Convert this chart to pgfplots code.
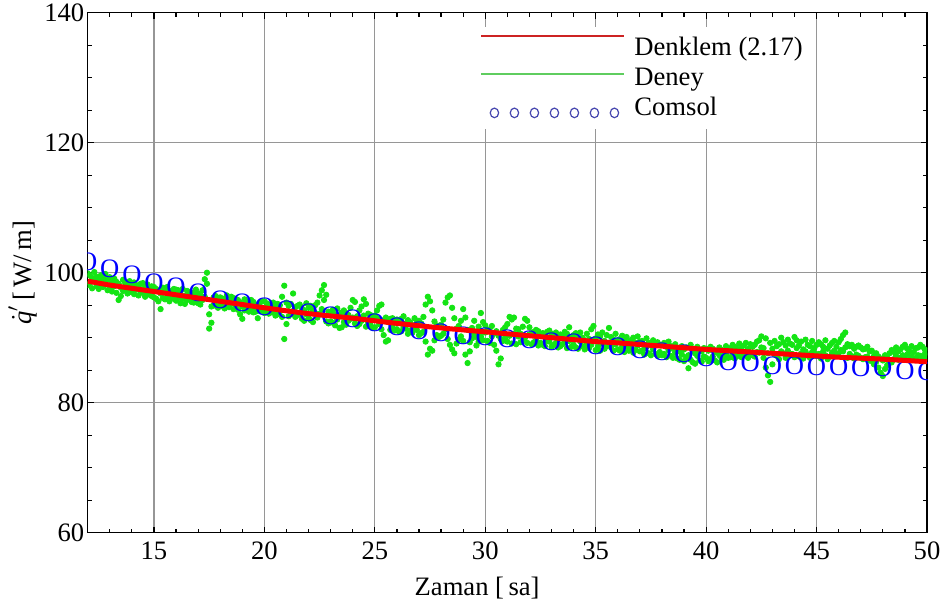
\documentclass[border=0pt]{standalone}
\usepackage{pgfplots}
\usepackage{pgfplotstable}
\pgfplotsset{compat=1.18}
\usepackage{fontspec}
\setmainfont{Liberation Serif}
\definecolor{dgreen}{RGB}{20,228,20}
\definecolor{gridgray}{RGB}{150,150,150}
\definecolor{legred}{RGB}{205,35,35}
\definecolor{leggreen}{RGB}{95,205,95}
\definecolor{legblue}{RGB}{70,70,175}
\pgfplotstableread{
x a b
12.0 99.9 98.1
12.1 98.4 99.6
12.2 99.2 97.6
12.3 100.1 98.7
12.4 97.9 99.4
12.5 98.9 97.5
12.6 99.6 98.2
12.7 97.8 99.1
12.8 98.6 99.8
12.9 97.3 98.9
13.0 99.3 97.6
13.1 98.5 97.1
13.2 99.1 97.9
13.3 96.9 98.6
13.4 95.8 98.3
13.5 96.4 97.7
13.6 98.9 97.2
13.7 97.5 98.4
13.8 96.8 98.0
13.9 98.7 97.1
14.0 97.0 98.3
14.1 98.5 96.7
14.2 97.4 98.1
14.3 96.5 97.9
14.4 98.3 97.0
14.5 96.9 98.4
14.6 97.8 96.3
14.7 98.2 97.1
14.8 96.6 97.6
14.9 97.9 96.4
15.0 96.2 97.8
15.1 97.5 96.0
15.2 95.6 97.2
15.3 94.4 96.8
15.4 96.1 97.7
15.5 97.4 95.9
15.6 96.3 97.8
15.7 95.6 97.0
15.8 97.2 96.2
15.9 96.0 97.5
16.0 97.4 95.7
16.1 96.1 97.3
16.2 95.3 96.8
16.3 97.5 96.0
16.4 96.4 95.2
16.5 95.8 97.2
16.6 97.0 96.0
16.7 95.5 96.7
16.8 96.9 95.4
16.9 96.2 97.4
17.0 95.3 96.8
17.1 96.6 95.1
17.2 97.3 95.8
17.3 99.0 96.3
17.4 100.0 98.3
17.5 93.6 91.4
17.6 92.3 94.8
17.7 96.2 95.0
17.8 94.9 96.4
17.9 95.7 94.6
18.0 96.2 94.9
18.1 94.8 96.0
18.2 95.9 94.5
18.3 96.5 95.2
18.4 94.7 95.6
18.5 95.3 96.3
18.6 96.1 94.4
18.7 94.9 95.7
18.8 95.8 94.3
18.9 93.6 95.4
19.0 92.9 94.8
19.1 95.9 94.2
19.2 94.6 95.6
19.3 95.2 94.0
19.4 94.3 95.8
19.5 95.5 93.9
19.6 94.0 95.1
19.7 93.0 94.7
19.8 95.4 94.1
19.9 94.5 95.6
20.0 95.6 93.8
20.1 94.0 95.3
20.2 95.1 93.7
20.3 93.9 94.9
20.4 95.4 94.2
20.5 94.6 93.4
20.6 93.6 95.2
20.7 95.0 94.0
20.8 96.3 93.2
20.9 98.0 89.8
21.0 92.1 95.4
21.1 94.9 93.3
21.2 93.6 95.2
21.3 96.8 94.1
21.4 93.2 94.7
21.5 94.9 93.5
21.6 93.8 95.1
21.7 94.5 92.9
21.8 92.6 94.2
21.9 95.3 93.6
22.0 93.0 94.6
22.1 94.9 92.7
22.2 92.4 94.1
22.3 93.8 95.0
22.4 95.4 93.1
22.5 96.5 93.7
22.6 97.3 94.4
22.7 98.1 95.8
22.8 96.6 92.5
22.9 94.0 92.2
23.0 93.9 92.5
23.1 92.3 94.3
23.2 93.6 91.9
23.3 94.5 92.8
23.4 91.5 93.3
23.5 93.9 91.6
23.6 92.4 94.2
23.7 93.8 92.0
23.8 92.6 93.5
23.9 94.6 92.9
24.0 95.8 93.1
24.1 95.5 92.2
24.2 93.3 91.8
24.3 92.1 94.2
24.4 94.8 92.6
24.5 95.9 93.4
24.6 95.2 91.7
24.7 93.7 92.3
24.8 92.0 93.5
24.9 93.1 91.5
25.0 91.6 93.4
25.1 93.0 94.2
25.2 94.9 92.1
25.3 95.1 91.3
25.4 90.4 92.7
25.5 89.4 93.1
25.6 89.6 92.4
25.7 92.9 91.2
25.8 91.6 93.0
25.9 92.7 91.1
26.0 91.3 92.8
26.1 92.5 90.9
26.2 91.0 92.9
26.3 93.3 91.6
26.4 91.4 92.2
26.5 90.6 92.7
26.6 92.4 91.1
26.7 90.8 91.9
26.8 93.0 91.4
26.9 91.2 92.3
27.0 92.6 90.4
27.1 90.7 92.2
27.2 93.2 90.9
27.3 95.1 89.4
27.4 96.3 87.4
27.5 95.6 88.3
27.6 94.2 88.0
27.7 92.5 89.6
27.8 90.4 91.9
27.9 91.7 90.1
28.0 90.3 92.0
28.1 92.8 90.6
28.2 95.4 91.3
28.3 96.2 89.8
28.4 96.5 88.9
28.5 94.6 88.2
28.6 93.0 87.6
28.7 91.4 89.1
28.8 89.7 91.8
28.9 92.6 90.2
29.0 94.4 89.5
29.1 93.1 87.4
29.2 91.2 86.1
29.3 89.3 87.9
29.4 91.5 89.9
29.5 92.6 90.6
29.6 90.1 88.8
29.7 91.7 89.4
29.8 93.8 90.2
29.9 92.4 89.6
30.0 90.8 91.9
30.1 89.5 91.3
30.2 91.1 89.2
30.3 90.2 91.8
30.4 88.9 90.7
30.5 88.0 91.0
30.6 85.9 90.3
30.7 86.8 89.8
30.8 91.2 89.5
30.9 90.0 91.6
31.0 92.1 89.4
31.1 93.2 90.3
31.2 92.8 89.1
31.3 93.1 90.6
31.4 91.4 89.0
31.5 90.2 91.3
31.6 89.3 90.6
31.7 91.7 89.6
31.8 92.9 90.0
31.9 92.6 89.2
32.0 90.5 91.6
32.1 89.0 90.7
32.2 90.9 89.3
32.3 89.6 91.2
32.4 91.0 88.8
32.5 89.2 90.4
32.6 90.7 88.9
32.7 88.7 90.1
32.8 90.9 89.5
32.9 89.4 91.1
33.0 90.6 88.6
33.1 88.9 90.3
33.2 90.8 89.2
33.3 89.7 88.5
33.4 88.7 90.5
33.5 90.2 89.0
33.6 89.3 90.9
33.7 90.6 88.4
33.8 91.6 89.5
33.9 88.6 90.1
34.0 90.4 88.9
34.1 88.5 90.7
34.2 89.9 88.3
34.3 90.8 89.4
34.4 88.7 90.0
34.5 89.6 88.2
34.6 90.6 89.0
34.7 88.4 89.8
34.8 91.3 88.9
34.9 91.8 89.6
35.0 89.9 88.1
35.1 88.6 90.5
35.2 90.2 88.0
35.3 89.1 90.8
35.4 88.3 89.5
35.5 90.4 88.7
35.6 91.5 89.2
35.7 88.5 90.1
35.8 89.7 88.0
35.9 90.6 89.0
36.0 88.2 89.6
36.1 89.8 88.0
36.2 88.6 90.3
36.3 89.5 87.8
36.4 90.1 88.7
36.5 88.0 89.3
36.6 89.6 88.4
36.7 87.7 90.0
36.8 89.2 88.1
36.9 90.2 88.8
37.0 87.9 89.4
37.1 89.5 88.0
37.2 88.3 87.4
37.3 89.9 88.6
37.4 87.6 89.2
37.5 88.8 87.3
37.6 89.6 88.2
37.7 87.5 88.9
37.8 89.3 87.2
37.9 87.8 88.9
38.0 88.9 87.3
38.1 87.5 89.2
38.2 88.6 87.0
38.3 89.4 88.1
38.4 87.2 88.7
38.5 88.3 86.9
38.6 89.0 87.7
38.7 86.8 88.4
38.8 87.9 86.6
38.9 88.7 87.4
39.0 86.4 88.2
39.1 88.5 87.0
39.2 87.3 85.3
39.3 88.9 86.6
39.4 86.2 88.1
39.5 87.6 86.0
39.6 88.6 87.2
39.7 86.5 88.0
39.8 87.9 86.3
39.9 88.4 87.1
40.0 86.9 88.3
40.1 88.0 86.4
40.2 86.7 88.6
40.3 88.3 87.1
40.4 86.5 87.8
40.5 87.7 86.2
40.6 88.5 87.3
40.7 86.8 88.1
40.8 87.9 86.6
40.9 88.7 87.4
41.0 86.9 88.2
41.1 88.4 87.0
41.2 87.3 88.9
41.3 88.6 86.8
41.4 87.5 88.3
41.5 89.1 87.2
41.6 87.0 88.5
41.7 88.8 87.6
41.8 87.4 89.2
41.9 88.3 86.9
42.0 89.0 87.5
42.1 87.3 88.6
42.2 88.9 87.1
42.3 87.8 89.4
42.4 89.6 87.7
42.5 90.2 88.5
42.6 88.4 86.9
42.7 89.9 85.4
42.8 87.6 84.2
42.9 89.2 83.2
43.0 88.3 85.9
43.1 89.5 87.4
43.2 87.2 88.7
43.3 89.0 86.7
43.4 90.0 87.9
43.5 87.6 89.3
43.6 88.8 86.9
43.7 89.7 88.0
43.8 87.3 89.1
43.9 88.9 87.5
44.0 90.1 87.0
44.1 88.4 89.6
44.2 87.1 88.8
44.3 89.4 87.6
44.4 88.2 86.8
44.5 89.7 87.9
44.6 87.4 88.9
44.7 88.7 86.9
44.8 89.5 87.8
44.9 87.6 88.4
45.0 88.9 87.2
45.1 87.5 89.3
45.2 89.0 86.8
45.3 87.9 88.6
45.4 89.6 87.3
45.5 88.3 86.7
45.6 87.1 88.8
45.7 89.2 87.7
45.8 88.0 89.5
45.9 87.4 88.6
46.0 89.3 87.6
46.1 88.1 89.8
46.2 90.4 87.9
46.3 90.8 88.5
46.4 89.0 86.9
46.5 87.5 88.7
46.6 88.9 87.1
46.7 86.8 88.3
46.8 88.6 87.4
46.9 87.2 88.8
47.0 88.5 86.9
47.1 86.7 88.2
47.2 88.3 87.0
47.3 87.1 88.6
47.4 86.5 87.9
47.5 88.0 86.4
47.6 87.2 85.9
47.7 86.3 87.6
47.8 85.4 87.1
47.9 84.6 86.8
48.0 84.1 86.5
48.1 85.2 87.3
48.2 86.9 85.8
48.3 87.6 86.4
48.4 86.2 88.1
48.5 87.8 86.7
48.6 88.5 87.2
48.7 86.6 87.9
48.8 88.2 86.9
48.9 87.3 88.6
49.0 88.9 86.8
49.1 87.4 88.3
49.2 86.6 87.9
49.3 88.7 87.1
49.4 87.8 86.7
49.5 86.9 88.4
49.6 88.5 87.3
49.7 87.2 88.9
49.8 88.6 86.8
49.9 87.5 88.2
50.0 88.0 87.0
}\deney
\begin{document}
\fontsize{13.3}{16}\selectfont
\begin{tikzpicture}
\begin{axis}[
  scale only axis,
  width=419.65pt, height=260pt,
  xmin=12, xmax=50, ymin=60, ymax=140,
  clip mode=individual,
  clip marker paths=true,
  xtick={15,20,...,50}, ytick={60,80,...,140},
  minor xtick={12,13,...,50}, minor ytick={60,65,...,140},
  tick align=inside,
  major tick length=3pt, minor tick length=2pt,
  every tick/.style={black, line width=0.6pt},
  grid=major,
  major grid style={color=gridgray, line width=0.6pt},
  axis line style={line width=0.8pt},
  /pgf/number format/assume math mode=true,
  ticklabel style={font=\fontsize{13.3}{16}\selectfont},
  yticklabel style={inner xsep=1.5pt},
  label style={font=\fontsize{13.3}{16}\selectfont},
  xlabel={Zaman [\,sa]},
  xlabel style={at={(axis description cs:0.464,-0.121)}, anchor=base},
  ylabel={$\dot{\hbox{\itshape q}}'$\,[\,W/\,m]},
  ylabel style={at={(axis description cs:-0.0776,0.5)}, anchor=center},
  legend style={at={(0.4603,0.9725)}, anchor=north west, draw=none, fill=white,
    inner sep=3pt, font=\fontsize{13.3}{16}\selectfont, column sep=2.5pt,
    nodes={inner sep=2pt, text height=9pt, text depth=2pt}},
  legend cell align=left,
]
\addlegendimage{legend image code/.code={\path (0pt,0pt) (71.5pt,0pt); \draw[legred, line width=1pt] (0pt,6.1pt) -- (71.5pt,6.1pt);}}
\addlegendentry{Denklem (2.17)}
\addlegendimage{legend image code/.code={\path (0pt,0pt) (71.5pt,0pt); \draw[leggreen, line width=1pt] (0pt,2.3pt) -- (71.5pt,2.3pt);}}
\addlegendentry{Deney}
\addlegendimage{legend image code/.code={\path (0pt,0pt) (71.5pt,0pt);
  \foreach \k in {0,...,6} {\draw[legblue, line width=0.6pt] (6.5pt+\k*10pt,-2.25pt) ellipse (2.1pt and 2.4pt);}}}
\addlegendentry{Comsol}

\addplot[only marks, mark=*, mark size=1.35pt, color=dgreen, forget plot] table[x=x, y=a] {\deney};
\addplot[only marks, mark=*, mark size=1.35pt, color=dgreen, forget plot] table[x=x, y=b] {\deney};

\addplot[only marks, mark=text, text mark={\color{blue}\fontsize{13.3}{14}\selectfont O}, color=blue, forget plot] coordinates {
(12,101.7) (13,100.6) (14,99.7) (15,98.5) (16,97.8) (17,96.9) (18,95.8) (19,95.4) (20,94.8)
(21,94.3) (22,93.8) (23,93.4) (24,92.9) (25,92.3) (26,91.7) (27,91.1) (28,90.8) (29,90.3)
(30,90.2) (31,89.8) (32,89.7) (33,89.4) (34,89.2) (35,88.8) (36,88.6) (37,88.2) (38,87.9)
(39,87.5) (40,86.9) (41,86.3) (42,86.1) (43,85.7) (44,85.7) (45,85.5) (46,85.5) (47,85.4)
(48,85.3) (49,84.9) (50,84.8)
};

\addplot[red, line width=2.5pt, smooth, forget plot] coordinates {
(12,98.7) (13,98.1) (14,97.6) (15,97.1) (16,96.6) (17,96.1) (18,95.6) (19,95.1) (20,94.6)
(22,93.7) (24,93.0) (25,92.6) (26,92.2) (28,91.5) (30,90.9) (32,90.3) (34,89.7) (35,89.4)
(36,89.2) (38,88.7) (40,88.2) (42,87.8) (44,87.4) (45,87.2) (46,87.0) (48,86.7) (50,86.3)
};
\end{axis}
\pgfresetboundingbox
\path[use as bounding box] ([shift={(-43.85pt,-38.65pt)}]current axis.south west) rectangle ([shift={(11pt,6.35pt)}]current axis.north east);
\end{tikzpicture}
\end{document}
